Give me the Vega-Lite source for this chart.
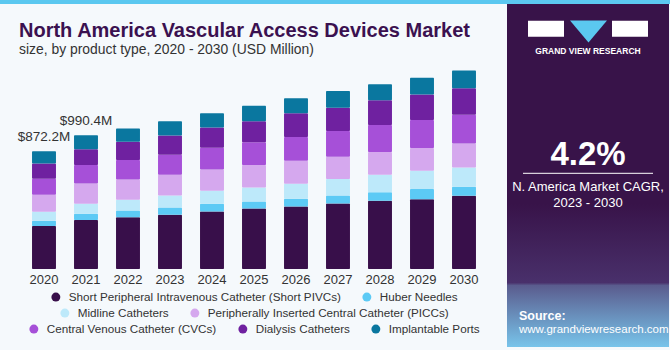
{
  "$schema": "https://vega.github.io/schema/vega-lite/v6.json",
  "background": "#f5f9fc",
  "padding": {"left": 0, "top": 0, "right": 0, "bottom": 3},
  "autosize": {"type": "pad"},
  "spacing": 0,
  "config": {
    "font": "Liberation Sans",
    "view": {"stroke": null},
    "legend": {
      "orient": "bottom", "direction": "horizontal", "title": null,
      "symbolType": "circle", "symbolSize": 80, "symbolStrokeWidth": 0,
      "labelFontSize": 11.7, "labelColor": "#333333", "labelFont": "Liberation Sans", "labelLimit": 400,
      "columnPadding": 20, "labelOffset": 7, "offset": 5, "padding": 0,
      "layout": {"bottom": {"anchor": "middle", "direction": "vertical", "margin": 3, "center": true}}
    }
  },
  "vconcat": [
    {
      "width": 670, "height": 4,
      "view": {"fill": "#5bc8f0", "stroke": null},
      "data": {"values": [{"a": 1}]},
      "mark": {"type": "point", "opacity": 0, "size": 0},
      "encoding": {}
    },
    {
      "spacing": 0,
      "hconcat": [
        {
          "width": 17, "height": 1,
          "data": {"values": [{"a": 1}]},
          "mark": {"type": "point", "opacity": 0, "size": 0},
          "encoding": {}
        },
        {
          "width": 462, "height": 208,
          "title": {
            "text": "North America Vascular Access Devices Market",
            "subtitle": "size, by product type, 2020 - 2030 (USD Million)",
            "anchor": "start", "frame": "group", "dx": -4,
            "font": "Liberation Sans", "fontSize": 20, "fontWeight": "bold", "color": "#3b1150",
            "subtitleFont": "Liberation Sans", "subtitleFontSize": 13.9, "subtitleColor": "#333333",
            "subtitlePadding": 2, "offset": 4
          },
          "data": {"values": [
            {"year": "2020", "product": "Short Peripheral Intravenous Catheter (Short PIVCs)", "value": 319.1},
            {"year": "2020", "product": "Huber Needles", "value": 39},
            {"year": "2020", "product": "Midline Catheters", "value": 66.5},
            {"year": "2020", "product": "Peripherally Inserted Central Catheter (PICCs)", "value": 125.6},
            {"year": "2020", "product": "Central Venous Catheter (CVCs)", "value": 118},
            {"year": "2020", "product": "Dialysis Catheters", "value": 113},
            {"year": "2020", "product": "Implantable Ports", "value": 91},
            {"year": "2021", "product": "Short Peripheral Intravenous Catheter (Short PIVCs)", "value": 362.2},
            {"year": "2021", "product": "Huber Needles", "value": 46.8},
            {"year": "2021", "product": "Midline Catheters", "value": 73.9},
            {"year": "2021", "product": "Peripherally Inserted Central Catheter (PICCs)", "value": 150},
            {"year": "2021", "product": "Central Venous Catheter (CVCs)", "value": 138},
            {"year": "2021", "product": "Dialysis Catheters", "value": 116},
            {"year": "2021", "product": "Implantable Ports", "value": 103.5},
            {"year": "2022", "product": "Short Peripheral Intravenous Catheter (Short PIVCs)", "value": 384},
            {"year": "2022", "product": "Huber Needles", "value": 49},
            {"year": "2022", "product": "Midline Catheters", "value": 79},
            {"year": "2022", "product": "Peripherally Inserted Central Catheter (PICCs)", "value": 150},
            {"year": "2022", "product": "Central Venous Catheter (CVCs)", "value": 145},
            {"year": "2022", "product": "Dialysis Catheters", "value": 135},
            {"year": "2022", "product": "Implantable Ports", "value": 98.5},
            {"year": "2023", "product": "Short Peripheral Intravenous Catheter (Short PIVCs)", "value": 401},
            {"year": "2023", "product": "Huber Needles", "value": 54},
            {"year": "2023", "product": "Midline Catheters", "value": 89},
            {"year": "2023", "product": "Peripherally Inserted Central Catheter (PICCs)", "value": 153},
            {"year": "2023", "product": "Central Venous Catheter (CVCs)", "value": 148},
            {"year": "2023", "product": "Dialysis Catheters", "value": 143},
            {"year": "2023", "product": "Implantable Ports", "value": 106},
            {"year": "2024", "product": "Short Peripheral Intravenous Catheter (Short PIVCs)", "value": 426},
            {"year": "2024", "product": "Huber Needles", "value": 57},
            {"year": "2024", "product": "Midline Catheters", "value": 96},
            {"year": "2024", "product": "Peripherally Inserted Central Catheter (PICCs)", "value": 158},
            {"year": "2024", "product": "Central Venous Catheter (CVCs)", "value": 160},
            {"year": "2024", "product": "Dialysis Catheters", "value": 150},
            {"year": "2024", "product": "Implantable Ports", "value": 106},
            {"year": "2025", "product": "Short Peripheral Intravenous Catheter (Short PIVCs)", "value": 448},
            {"year": "2025", "product": "Huber Needles", "value": 52},
            {"year": "2025", "product": "Midline Catheters", "value": 103},
            {"year": "2025", "product": "Peripherally Inserted Central Catheter (PICCs)", "value": 167.5},
            {"year": "2025", "product": "Central Venous Catheter (CVCs)", "value": 167.5},
            {"year": "2025", "product": "Dialysis Catheters", "value": 155},
            {"year": "2025", "product": "Implantable Ports", "value": 116},
            {"year": "2026", "product": "Short Peripheral Intravenous Catheter (Short PIVCs)", "value": 463},
            {"year": "2026", "product": "Huber Needles", "value": 57},
            {"year": "2026", "product": "Midline Catheters", "value": 111},
            {"year": "2026", "product": "Peripherally Inserted Central Catheter (PICCs)", "value": 170},
            {"year": "2026", "product": "Central Venous Catheter (CVCs)", "value": 177},
            {"year": "2026", "product": "Dialysis Catheters", "value": 175},
            {"year": "2026", "product": "Implantable Ports", "value": 111},
            {"year": "2027", "product": "Short Peripheral Intravenous Catheter (Short PIVCs)", "value": 485},
            {"year": "2027", "product": "Huber Needles", "value": 59},
            {"year": "2027", "product": "Midline Catheters", "value": 123},
            {"year": "2027", "product": "Peripherally Inserted Central Catheter (PICCs)", "value": 165},
            {"year": "2027", "product": "Central Venous Catheter (CVCs)", "value": 190},
            {"year": "2027", "product": "Dialysis Catheters", "value": 172},
            {"year": "2027", "product": "Implantable Ports", "value": 123},
            {"year": "2028", "product": "Short Peripheral Intravenous Catheter (Short PIVCs)", "value": 505},
            {"year": "2028", "product": "Huber Needles", "value": 64},
            {"year": "2028", "product": "Midline Catheters", "value": 128},
            {"year": "2028", "product": "Peripherally Inserted Central Catheter (PICCs)", "value": 170},
            {"year": "2028", "product": "Central Venous Catheter (CVCs)", "value": 200},
            {"year": "2028", "product": "Dialysis Catheters", "value": 182},
            {"year": "2028", "product": "Implantable Ports", "value": 118},
            {"year": "2029", "product": "Short Peripheral Intravenous Catheter (Short PIVCs)", "value": 517},
            {"year": "2029", "product": "Huber Needles", "value": 76},
            {"year": "2029", "product": "Midline Catheters", "value": 135},
            {"year": "2029", "product": "Peripherally Inserted Central Catheter (PICCs)", "value": 167.5},
            {"year": "2029", "product": "Central Venous Catheter (CVCs)", "value": 207},
            {"year": "2029", "product": "Dialysis Catheters", "value": 190},
            {"year": "2029", "product": "Implantable Ports", "value": 123},
            {"year": "2030", "product": "Short Peripheral Intravenous Catheter (Short PIVCs)", "value": 542},
            {"year": "2030", "product": "Huber Needles", "value": 66.5},
            {"year": "2030", "product": "Midline Catheters", "value": 143},
            {"year": "2030", "product": "Peripherally Inserted Central Catheter (PICCs)", "value": 177},
            {"year": "2030", "product": "Central Venous Catheter (CVCs)", "value": 214},
            {"year": "2030", "product": "Dialysis Catheters", "value": 195},
            {"year": "2030", "product": "Implantable Ports", "value": 133}
          ]},
          "transform": [
            {"calculate": "indexof(['Short Peripheral Intravenous Catheter (Short PIVCs)','Huber Needles','Midline Catheters','Peripherally Inserted Central Catheter (PICCs)','Central Venous Catheter (CVCs)','Dialysis Catheters','Implantable Ports'], datum.product)", "as": "k"},
            {"stack": "value", "groupby": ["year"], "sort": [{"field": "k", "order": "ascending"}], "as": ["v0", "v1"]}
          ],
          "encoding": {
            "x": {
              "field": "year", "type": "ordinal",
              "scale": {"paddingInner": 0.43, "paddingOuter": 0.215},
              "axis": {"title": null, "labelAngle": 0, "ticks": false, "domain": false, "labelFontSize": 13, "labelColor": "#333333", "labelPadding": 4}
            }
          },
          "layer": [
            {
              "transform": [{"filter": {"field": "k", "oneOf": [0, 1]}}],
              "mark": {"type": "bar", "cornerRadius": 1},
              "encoding": {
                "y": {"field": "v1", "type": "quantitative", "scale": {"domain": [0, 1540], "nice": false},
                      "axis": {"orient": "right", "labels": false, "ticks": false, "domain": false, "grid": false, "title": null, "minExtent": 22, "maxExtent": 22}},
                "y2": {"field": "v0"},
                "color": {"field": "product", "type": "nominal",
                  "scale": {"domain": ["Short Peripheral Intravenous Catheter (Short PIVCs)", "Huber Needles"], "range": ["#380f4a", "#5ccaf5"]}}
              }
            },
            {
              "transform": [{"filter": {"field": "k", "oneOf": [2, 3]}}],
              "mark": {"type": "bar", "cornerRadius": 1},
              "encoding": {
                "y": {"field": "v1", "type": "quantitative"},
                "y2": {"field": "v0"},
                "color": {"field": "product", "type": "nominal",
                  "scale": {"domain": ["Midline Catheters", "Peripherally Inserted Central Catheter (PICCs)"], "range": ["#bde9fa", "#d5a8ee"]}}
              }
            },
            {
              "transform": [{"filter": {"field": "k", "oneOf": [4, 5, 6]}}],
              "mark": {"type": "bar", "cornerRadius": 1},
              "encoding": {
                "y": {"field": "v1", "type": "quantitative"},
                "y2": {"field": "v0"},
                "color": {"field": "product", "type": "nominal",
                  "scale": {"domain": ["Central Venous Catheter (CVCs)", "Dialysis Catheters", "Implantable Ports"], "range": ["#a650d8", "#6f21a0", "#0a779f"]}}
              }
            },
            {
              "transform": [
                {"filter": "datum.k == 6 && (datum.year == '2020' || datum.year == '2021')"},
                {"calculate": "'$' + format(datum.v1, '.1f') + 'M'", "as": "lbl"}
              ],
              "mark": {"type": "text", "baseline": "bottom", "dy": -7, "fontSize": 13.5, "color": "#333333"},
              "encoding": {
                "y": {"field": "v1", "type": "quantitative"},
                "text": {"field": "lbl"}
              }
            }
          ],
          "resolve": {"scale": {"color": "independent"}}
        },
        {
          "width": 162, "height": 286,
          "view": {"fill": "#381349", "stroke": null},
          "data": {"values": [{"panel": "cagr"}]},
          "layer": [
            {
              "mark": {"type": "rect", "color": "#381349"},
              "encoding": {
                "x": {"datum": 0, "type": "quantitative", "scale": {"domain": [0, 162], "nice": false, "zero": false}, "axis": null},
                "x2": {"datum": 162},
                "y": {"datum": 0, "type": "quantitative", "scale": {"domain": [343, 57], "nice": false, "zero": false}, "axis": null},
                "y2": {"datum": 343}
              }
            },
            {
              "mark": {"type": "rect", "color": {"gradient": "linear", "x1": 0, "y1": 0, "x2": 0, "y2": 1,
                "stops": [{"offset": 0, "color": "#381349"}, {"offset": 0.55, "color": "#49306b"}, {"offset": 0.57, "color": "#5a5c8e"}, {"offset": 1, "color": "#78c4ea"}]}},
              "encoding": {
                "x": {"datum": 0, "type": "quantitative"},
                "x2": {"datum": 162},
                "y": {"datum": 200, "type": "quantitative"},
                "y2": {"datum": 343}
              }
            },
            {
              "mark": {"type": "rect", "color": "#ffffff"},
              "encoding": {"x": {"datum": 21, "type": "quantitative"}, "x2": {"datum": 57}, "y": {"datum": 16.7, "type": "quantitative"}, "y2": {"datum": 32.7}}
            },
            {
              "mark": {"type": "rect", "color": "#ffffff"},
              "encoding": {"x": {"datum": 105, "type": "quantitative"}, "x2": {"datum": 141}, "y": {"datum": 16.7, "type": "quantitative"}, "y2": {"datum": 32.7}}
            },
            {
              "mark": {"type": "point", "filled": true, "color": "#5bc8f0", "opacity": 1, "size": 1369, "shape": "M-1,-0.59L1,-0.59L0,0.59Z"},
              "encoding": {"x": {"datum": 81.5, "type": "quantitative"}, "y": {"datum": 27.5, "type": "quantitative"}}
            },
            {
              "mark": {"type": "text", "text": "GRAND VIEW RESEARCH", "color": "#ffffff", "fontSize": 8.5, "fontWeight": "bold", "letterSpacing": 0.9, "align": "center", "baseline": "middle"},
              "encoding": {"x": {"datum": 81, "type": "quantitative"}, "y": {"datum": 46.5, "type": "quantitative"}}
            },
            {
              "mark": {"type": "text", "text": "4.2%", "color": "#ffffff", "fontSize": 33, "fontWeight": "bold", "align": "center", "baseline": "middle"},
              "encoding": {"x": {"datum": 81, "type": "quantitative"}, "y": {"datum": 151, "type": "quantitative"}}
            },
            {
              "mark": {"type": "rule", "color": "#ffffff", "strokeWidth": 1},
              "encoding": {"x": {"datum": 16, "type": "quantitative"}, "x2": {"datum": 146}, "y": {"datum": 169.3, "type": "quantitative"}}
            },
            {
              "mark": {"type": "text", "text": "N. America Market CAGR,", "color": "#ffffff", "fontSize": 13, "align": "center", "baseline": "middle"},
              "encoding": {"x": {"datum": 81, "type": "quantitative"}, "y": {"datum": 182.5, "type": "quantitative"}}
            },
            {
              "mark": {"type": "text", "text": "2023 - 2030", "color": "#ffffff", "fontSize": 13, "align": "center", "baseline": "middle"},
              "encoding": {"x": {"datum": 81, "type": "quantitative"}, "y": {"datum": 198.5, "type": "quantitative"}}
            },
            {
              "mark": {"type": "text", "text": "Source:", "color": "#ffffff", "fontSize": 12.5, "fontWeight": "bold", "align": "left", "baseline": "middle"},
              "encoding": {"x": {"datum": 12, "type": "quantitative"}, "y": {"datum": 312, "type": "quantitative"}}
            },
            {
              "mark": {"type": "text", "text": "www.grandviewresearch.com", "color": "#ffffff", "fontSize": 11.5, "align": "left", "baseline": "middle"},
              "encoding": {"x": {"datum": 12, "type": "quantitative"}, "y": {"datum": 326, "type": "quantitative"}}
            }
          ]
        }
      ]
    }
  ]
}
